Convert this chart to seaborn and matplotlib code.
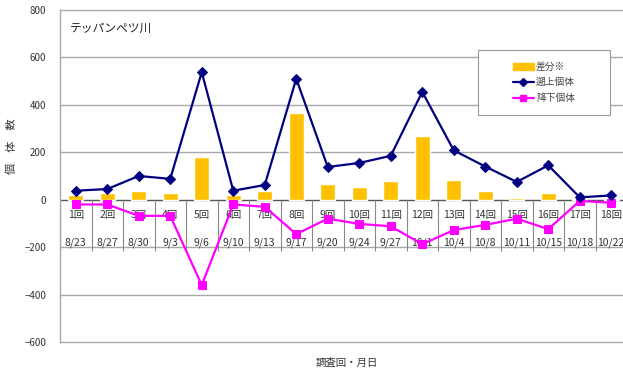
import numpy as np
import pandas as pd
import matplotlib
matplotlib.use("Agg")
import matplotlib.pyplot as plt
import seaborn as sns
from matplotlib.patches import Patch, Rectangle
from matplotlib.lines import Line2D

# ==================== DATA ====================
rounds = [f"{i}回" for i in range(1, 19)]
dates = ["8/23", "8/27", "8/30", "9/3", "9/6", "9/10", "9/13", "9/17", "9/20",
         "9/24", "9/27", "10/1", "10/4", "10/8", "10/11", "10/15", "10/18", "10/22"]
upstream = [38, 45, 100, 88, 538, 38, 62, 510, 138, 155, 185, 455, 208, 140, 75, 145, 10, 18]
downstream = [-20, -20, -68, -68, -360, -20, -30, -145, -80, -102, -112, -188, -128, -106, -80, -124, -5, -13]
diff = [19, 27, 36, 27, 180, 19, 36, 365, 65, 54, 78, 268, 82, 37, 6, 29, 2, 4]

LEGEND_LABELS = ["差分※", "遡上個体", "降下個体"]
BAR_COLOR = "#FFC000"
UP_COLOR = "#000080"
DOWN_COLOR = "#FF00FF"

df = pd.DataFrame({"idx": np.arange(len(rounds)), "diff": diff,
                   "up": upstream, "down": downstream})

# ==================== STYLE ====================
sns.set_style("white")
plt.rcParams["font.family"] = ["Noto Sans CJK JP", "DejaVu Sans"]

fig = plt.figure(figsize=(6.23, 3.72), dpi=100)
ax = fig.add_axes([60 / 623, 1 - 342 / 372, 567 / 623, 332 / 372])

# ==================== PLOT ====================
sns.barplot(data=df, x="idx", y="diff", color=BAR_COLOR, width=0.47,
            saturation=1, ax=ax, zorder=2)
sns.lineplot(data=df, x="idx", y="up", color=UP_COLOR, marker="D",
             markersize=5.5, markeredgecolor=UP_COLOR, linewidth=1.6,
             ax=ax, zorder=4)
sns.lineplot(data=df, x="idx", y="down", color=DOWN_COLOR, marker="s",
             markersize=6, markeredgecolor=DOWN_COLOR, linewidth=1.6,
             ax=ax, zorder=3)

n = len(rounds)
ax.set_xlim(-0.5, n - 0.5)
ax.set_ylim(-600, 800)
ax.set_yticks(np.arange(-600, 801, 200))
ax.tick_params(axis="y", length=0, pad=10, labelsize=7, colors="#333333")
ax.set_xticks([])
ax.set_xlabel("")
ax.set_ylabel("")

# gridlines
for v in [600, 400, 200, -200, -400]:
    ax.axhline(v, color="#a8a8a8", lw=1.0, zorder=0)
ax.axhline(0, color="#555555", lw=1.0, zorder=1)

for s in ["left", "top", "bottom"]:
    ax.spines[s].set_color("#a8a8a8")
    ax.spines[s].set_linewidth(1.0)
ax.spines["right"].set_visible(False)

# category labels below the zero line
ax.vlines(np.arange(-0.5, n), -215, 0, color="#888888", lw=0.8, zorder=1)
for i in range(n):
    ax.text(i, -65, rounds[i], ha="center", va="center", fontsize=7.5, color="#333333", zorder=2)
    ax.text(i, -183, dates[i], ha="center", va="center", fontsize=7.5, color="#333333", zorder=2)

ax.text(0.018, 0.946, "テッパンペツ川", transform=ax.transAxes, fontsize=8.5,
        ha="left", va="center", color="#222222")

fig.text(12 / 623, 1 - 146 / 372, "個　体　数", rotation=90, ha="center", va="center",
         fontsize=8, color="#333333")
fig.text(347 / 623, 1 - 363 / 372, "調査回・月日", ha="center", va="center",
         fontsize=7.5, color="#333333")

# legend: framed box with centred entries
box = (0.737, 0.684, 0.233, 0.196)
ax.add_patch(Rectangle(box[:2], box[2], box[3], transform=ax.transAxes,
                       facecolor="white", edgecolor="#999999", lw=0.8, zorder=5))
handles = [Patch(facecolor=BAR_COLOR, edgecolor=BAR_COLOR),
           Line2D([0], [0], color=UP_COLOR, marker="D", markersize=4, lw=1.6),
           Line2D([0], [0], color=DOWN_COLOR, marker="s", markersize=4.5, lw=1.6)]
leg = ax.legend(handles, LEGEND_LABELS, loc="center",
                bbox_to_anchor=(box[0] + box[2] / 2, box[1] + box[3] / 2),
                fontsize=7, frameon=False, handlelength=2.2, handletextpad=0.2,
                borderpad=0.3, labelspacing=0.6, borderaxespad=0)
leg.set_zorder(6)
for t in leg.get_texts():
    t.set_color("#444444")

plt.savefig("out.png", dpi=100)
